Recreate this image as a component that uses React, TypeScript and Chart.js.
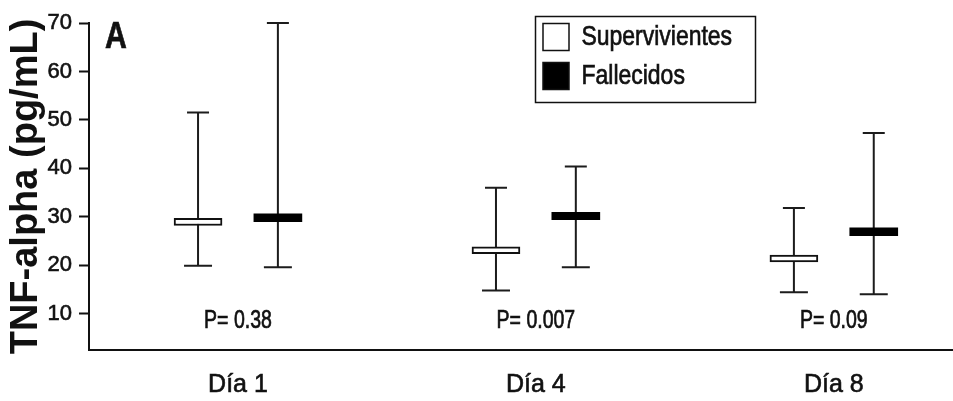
import React, { useEffect, useRef } from "react";
import { Chart, registerables } from "chart.js";

Chart.register(...registerables);

// Study days and the p-value printed above each day
const categories = ["Día 1", "Día 4", "Día 8"];
const pLabels = ["P= 0.38", "P= 0.007", "P= 0.09"];
const yTickValues = [10, 20, 30, 40, 50, 60, 70];

// Supervivientes: whisker range and central box (pg/mL)
const survMin = [19.9, 14.8, 14.4];
const survBoxLow = [28.2, 22.4, 20.7];
const survBoxHigh = [29.7, 23.8, 22.1];
const survMax = [51.5, 36.0, 31.8];

// Fallecidos: whisker range and central box (pg/mL)
const fallMin = [19.6, 19.6, 14.0];
const fallBoxLow = [29.0, 29.4, 26.1];
const fallBoxHigh = [30.6, 30.9, 27.7];
const fallMax = [70.0, 40.4, 47.3];

const SANS = "'Liberation Sans', Arial, Helvetica, sans-serif";
const INK = "#111111";
const GROUP_OFFSET = 0.134;

// Text in a condensed Helvetica look: horizontally squeezed, slightly heavy glyphs
function drawCondensed(ctx: CanvasRenderingContext2D, text: string, x: number, y: number, sx: number, align: CanvasTextAlign) {
  ctx.save();
  ctx.translate(x, y);
  ctx.scale(sx, 1);
  ctx.textAlign = align;
  ctx.fillText(text, 0, 0);
  ctx.strokeStyle = INK;
  ctx.lineWidth = 0.7;
  ctx.strokeText(text, 0, 0);
  ctx.restore();
}

// Whiskers with caps, drawn beneath the boxes
const whiskerPlugin = {
  id: "whiskers",
  beforeDatasetsDraw(chart: any) {
    const { ctx } = chart;
    const y = chart.scales.y;
    chart.data.datasets.forEach((ds: any, di: number) => {
      const meta = chart.getDatasetMeta(di);
      meta.data.forEach((el: any, i: number) => {
        const x = el.x;
        const yLo = y.getPixelForValue(ds.whiskerMin[i]);
        const yHi = y.getPixelForValue(ds.whiskerMax[i]);
        ctx.save();
        ctx.strokeStyle = "#1c1c1c";
        ctx.lineWidth = 2;
        ctx.beginPath();
        ctx.moveTo(x, yHi);
        ctx.lineTo(x, yLo);
        ctx.moveTo(x - 11, yHi);
        ctx.lineTo(x + 11, yHi);
        ctx.moveTo(x - 14, yLo);
        ctx.lineTo(x + 14, yLo);
        ctx.stroke();
        ctx.restore();
      });
    });
  },
};

// Panel letter, p-values and the boxed legend
const annotationPlugin = {
  id: "annotations",
  afterDraw(chart: any) {
    const { ctx, chartArea } = chart;
    const xs = chart.scales.x;
    ctx.save();
    ctx.fillStyle = INK;
    ctx.textBaseline = "middle";

    ctx.font = `bold 36px ${SANS}`;
    drawCondensed(ctx, "A", chartArea.left + 27, chartArea.top + 15, 0.84, "center");

    ctx.font = `25px ${SANS}`;
    pLabels.forEach((t, i) => {
      drawCondensed(ctx, t, xs.getPixelForValue(i), chartArea.bottom - 29, 0.78, "center");
    });

    // legend frame
    const lx = 535.5;
    const ly = 16.5;
    ctx.strokeStyle = INK;
    ctx.lineWidth = 1.5;
    ctx.strokeRect(lx, ly, 220, 86);
    ctx.font = `28px ${SANS}`;
    chart.data.datasets.forEach((ds: any, i: number) => {
      const sy = ly + 7 + i * 39;
      ctx.fillStyle = ds.backgroundColor;
      ctx.fillRect(lx + 7.5, sy, 26, 27);
      ctx.strokeStyle = INK;
      ctx.lineWidth = 1.5;
      ctx.strokeRect(lx + 7.5, sy, 26, 27);
      ctx.fillStyle = INK;
      drawCondensed(ctx, ds.label, lx + 46, sy + 14, 0.82, "left");
    });
    ctx.restore();
  },
};

function buildData(low: number[], high: number[], offset: number) {
  return categories.map((_, i) => ({ x: i + offset, y: [low[i], high[i]] }));
}

export default function App() {
  const canvasRef = useRef<HTMLCanvasElement | null>(null);

  useEffect(() => {
    const canvas = canvasRef.current;
    if (!canvas) return;
    const chart = new Chart(canvas, {
      type: "bar",
      data: {
        datasets: [
          {
            label: "Supervivientes",
            data: buildData(survBoxLow, survBoxHigh, -GROUP_OFFSET),
            backgroundColor: "#ffffff",
            borderColor: INK,
            borderWidth: 2,
            borderSkipped: false,
            barThickness: 48,
            grouped: false,
            whiskerMin: survMin,
            whiskerMax: survMax,
          } as any,
          {
            label: "Fallecidos",
            data: buildData(fallBoxLow, fallBoxHigh, GROUP_OFFSET),
            backgroundColor: "#000000",
            borderColor: "#000000",
            borderWidth: 0,
            barThickness: 48,
            grouped: false,
            whiskerMin: fallMin,
            whiskerMax: fallMax,
          } as any,
        ],
      },
      options: {
        animation: false,
        responsive: false,
        maintainAspectRatio: false,
        layout: { padding: { top: 23, right: 0, bottom: 0, left: 0 } },
        plugins: {
          legend: { display: false },
          tooltip: { enabled: false },
        },
        scales: {
          x: {
            type: "linear",
            offset: false,
            min: -0.5,
            max: 2.4,
            afterBuildTicks: (scale: any) => {
              scale.ticks = categories.map((_, i) => ({ value: i }));
            },
            afterFit: (scale: any) => {
              scale.height = 51;
            },
            ticks: {
              callback: (v: any) => categories[Math.round(Number(v))] ?? "",
              color: INK,
              textStrokeColor: INK,
              textStrokeWidth: 0.6,
              font: { family: SANS, size: 25 },
              padding: 20,
              maxRotation: 0,
              autoSkip: false,
            },
            grid: { display: true, drawOnChartArea: false, drawTicks: false },
            border: { display: true, color: INK, width: 2 },
          },
          y: {
            type: "linear",
            min: 2.5,
            max: 70,
            afterBuildTicks: (scale: any) => {
              scale.ticks = yTickValues.map((v) => ({ value: v }));
            },
            afterFit: (scale: any) => {
              scale.width = 89;
            },
            ticks: {
              color: INK,
              textStrokeColor: INK,
              textStrokeWidth: 0.6,
              font: { family: SANS, size: 22 },
              padding: 7,
            },
            grid: {
              display: true,
              drawOnChartArea: false,
              drawTicks: true,
              tickLength: 10,
              tickWidth: 2,
              tickColor: INK,
            },
            border: { display: true, color: INK, width: 2 },
            title: {
              display: true,
              text: "TNF-alpha (pg/mL)",
              color: INK,
              font: { family: SANS, size: 38, weight: "bold" },
              padding: { top: 4, bottom: 0 },
            },
          },
        },
      },
      plugins: [whiskerPlugin, annotationPlugin],
    });
    return () => chart.destroy();
  }, []);

  return (
    <div style={{ position: "fixed", left: 0, top: 0, width: 953, height: 401, background: "#ffffff" }}>
      <canvas ref={canvasRef} width={953} height={401} style={{ display: "block" }} />
    </div>
  );
}
